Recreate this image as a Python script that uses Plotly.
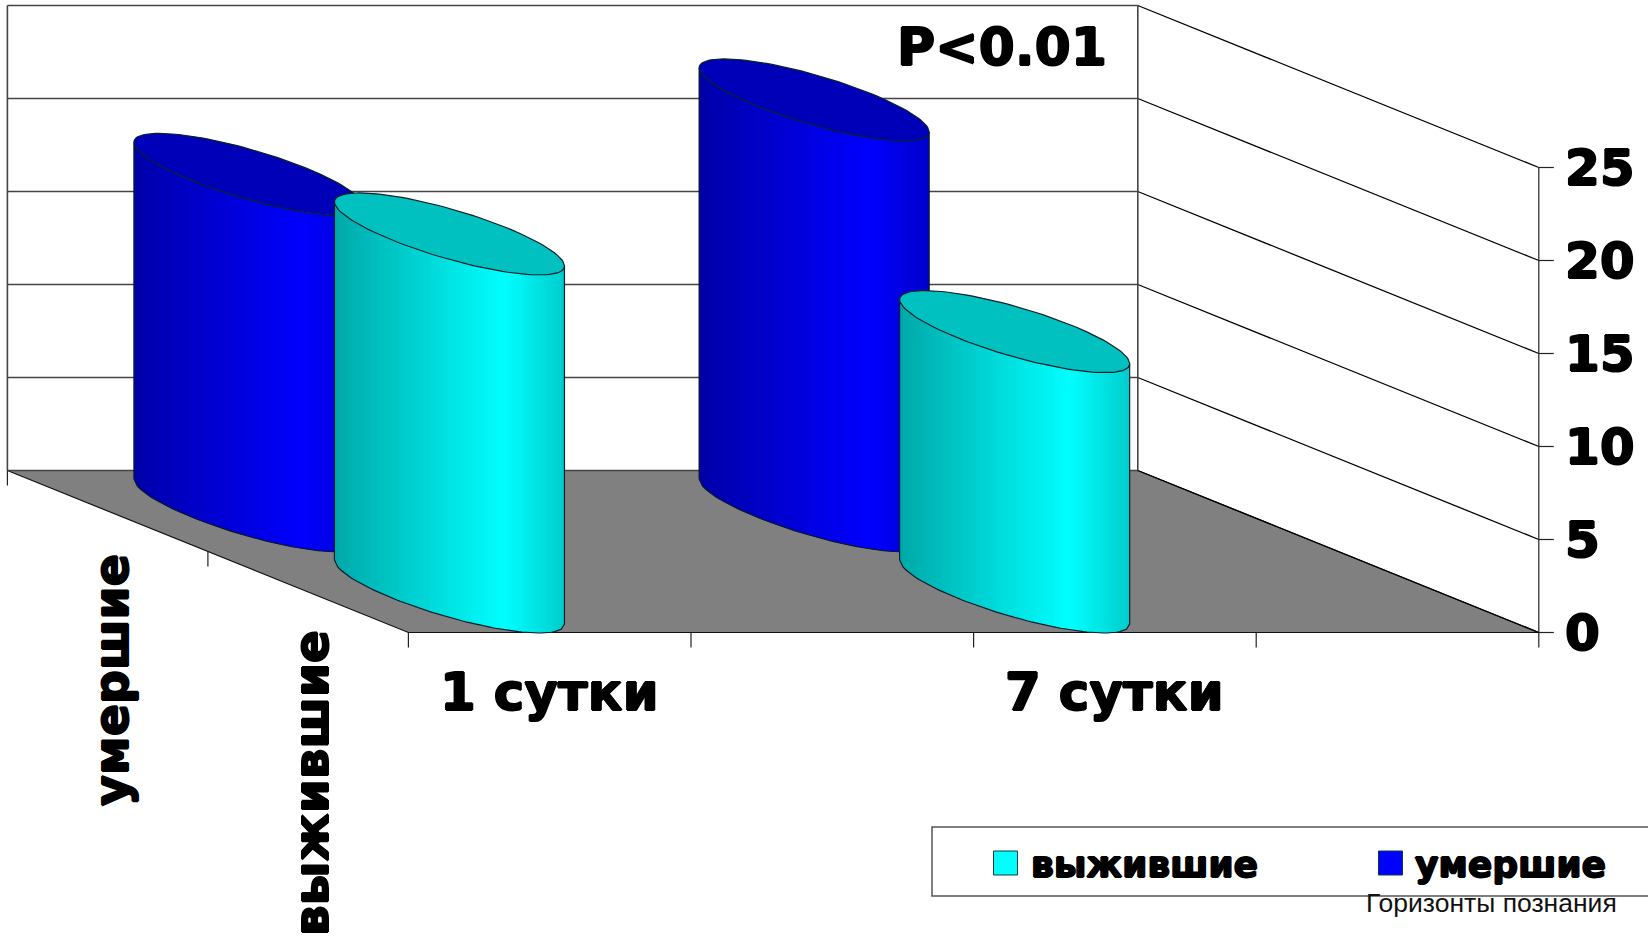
import math
import numpy as np
import plotly.graph_objects as go

categories = ["1 сутки", "", "7 сутки", ""]
series_names = ["умершие", "выжившие"]
dead_values = [18.1, 22.1]
survived_values = [19.25, 14.0]
value_ticks = [0, 5, 10, 15, 20, 25]
note_text = "P<0.01"
credit_text = "Горизонты познания"

# oblique projection of (category position, depth 0..1, value) to page pixels
X0, Y0 = 7.4, 470.5
CAT_W = 282.6
DX, DY = 401.0, 162.0
V_PX = 18.6
# screen ellipse of the cylinder section
RA, RB, RC = 71.6, 90.0, 41.0
R = math.hypot(RA, RB)
PHI = math.atan2(RB, RA)

FONT = "DejaVu Sans"
HEAVY = "0.9px 0 0 #000, -0.9px 0 0 #000, 0 0.7px 0 #000, 0 -0.7px 0 #000"


def proj(c, d, v):
    return X0 + CAT_W * c + DX * d, Y0 + DY * d - V_PX * v


fig = go.Figure()


def poly(xs, ys, fill=None, line="black", width=1.0):
    fig.add_trace(go.Scatter(
        x=list(xs), y=list(ys), mode="lines", showlegend=False, hoverinfo="skip",
        fill="toself" if fill else None, fillcolor=fill,
        line=dict(color=line if line else "rgba(0,0,0,0)", width=width if line else 0),
    ))


def seg(p, q, color="black", width=1.0):
    poly([p[0], q[0]], [p[1], q[1]], None, color, width)


n_cat = len(categories)

# floor
corners = [proj(0, 0, 0), proj(n_cat, 0, 0), proj(n_cat, 1, 0), proj(0, 1, 0), proj(0, 0, 0)]
poly([p[0] for p in corners], [p[1] for p in corners], "#808080", "#111111", 1.2)

# back wall and side wall grid
for v in value_ticks:
    seg(proj(0, 0, v), proj(n_cat, 0, v), "#444444", 1.6)
    seg(proj(n_cat, 0, v), proj(n_cat, 1, v), "black", 1.3)
    a = proj(n_cat, 1, v)
    seg(a, (a[0] + 15, a[1]), "#222222", 1.2)
seg(proj(0, 0, 0), proj(0, 0, 25), "#444444", 1.6)
seg(proj(n_cat, 0, 0), proj(n_cat, 0, 25), "#444444", 1.6)
seg(proj(n_cat, 1, 0), proj(n_cat, 1, 25), "#222222", 1.2)

# ticks below floor
for i in range(n_cat + 1):
    a = proj(i, 1, 0)
    seg(a, (a[0], a[1] + 15), "#222222", 1.2)
for d in [0, 0.5]:
    a = proj(0, d, 0)
    seg(a, (a[0], a[1] + 15), "#222222", 1.2)


def shade(t):
    if t < 0.74:
        return 0.66 + (1 - 0.66) * t / 0.74
    return 1 - (1 - 0.80) * (t - 0.74) / 0.26


def hue(kind, k):
    c = int(round(255 * k))
    return f"rgb(0,0,{c})" if kind == "dead" else f"rgb(0,{c},{c})"


def cylinder(c, d, v, kind):
    cx, base = proj(c, d, 0)
    top = base - V_PX * v
    n = 70
    xs = np.linspace(R, -R, n + 1)
    th = PHI + np.arccos(np.clip(xs / R, -1, 1))
    sy = RC * np.sin(th)
    # strips painted right to left, each overlapping under the next one to avoid seams
    for i in range(n):
        j = min(i + 2, n)
        t = (xs[i] + xs[i + 1] + 2 * R) / (4 * R)
        col = hue(kind, shade(t))
        idx = [i, i + 1, j]
        px = [cx + xs[k] for k in idx] + [cx + xs[k] for k in idx[::-1]] + [cx + xs[i]]
        py = [top + sy[k] for k in idx] + [base + sy[k] for k in idx[::-1]] + [top + sy[i]]
        poly(px, py, col, None)
    # right edge, base arc, left edge
    poly([cx + R] + list(cx + xs) + [cx - R],
         [top + sy[0]] + list(base + sy) + [top + sy[-1]],
         None, "#0a1a2a", 1.2)
    # top ellipse
    tt = np.linspace(0, 2 * math.pi, 121)
    ex = cx + RA * np.cos(tt) + RB * np.sin(tt)
    ey = top + RC * np.sin(tt)
    poly(ex, ey, "#0000B8" if kind == "dead" else "#00C0C0", "#06202a", 1.2)


cat_pos = [0.5, 2.5]
for i, cp in enumerate(cat_pos):
    cylinder(cp, 0.25, dead_values[i], "dead")
    cylinder(cp, 0.75, survived_values[i], "survived")

ann = []


def bold(size):
    return dict(family=FONT, size=size, color="black", shadow=HEAVY)


# value tick labels
for v in value_ticks:
    a = proj(n_cat, 1, v)
    ann.append(dict(x=a[0] + 24, y=a[1], text=f"<b>{v}</b>", xanchor="left", yanchor="middle",
                    showarrow=False, font=bold(50)))
# category labels
for i, name in enumerate(categories):
    if name:
        a = proj(i + 0.5, 1, 0)
        ann.append(dict(x=a[0], y=692, text=f"<b>{name}</b>", xanchor="center", yanchor="middle",
                        showarrow=False, font=bold(51.5)))
# series labels, rotated
ann.append(dict(x=111, y=680, text=f"<b>{series_names[0]}</b>", textangle=-90, xanchor="center",
                yanchor="middle", showarrow=False, font=bold(47.5)))
ann.append(dict(x=311, y=783, text=f"<b>{series_names[1]}</b>", textangle=-90, xanchor="center",
                yanchor="middle", showarrow=False, font=bold(48.5)))
ann.append(dict(x=1002, y=47, text=f"<b>{note_text}</b>", xanchor="center", yanchor="middle",
                showarrow=False, font=bold(52)))

# legend
poly([1660, 932, 932, 1660], [827, 827, 896, 896], None, "#555555", 1.5)
for sx, col, name, tx in [(1005.5, "#00FFFF", series_names[1], 1029), (1390.5, "#0000FF", series_names[0], 1413)]:
    fig.add_trace(go.Scatter(x=[sx], y=[863], mode="markers", showlegend=False, hoverinfo="skip",
                             marker=dict(symbol="square", size=24, color=col,
                                         line=dict(color="#0a3a4a", width=1))))
    ann.append(dict(x=tx, y=864, text=f"<b>{name}</b>", xanchor="left", yanchor="middle",
                    showarrow=False, font=bold(36)))
ann.append(dict(x=1491, y=903, text=credit_text, xanchor="center", yanchor="middle", showarrow=False,
                font=dict(family="Liberation Sans", size=26.5, color="#111111")))

fig.update_layout(
    width=1648, height=939, autosize=False,
    margin=dict(l=0, r=0, t=0, b=0),
    paper_bgcolor="white", plot_bgcolor="white",
    showlegend=False, annotations=ann,
    xaxis=dict(range=[0, 1648], visible=False, fixedrange=True),
    yaxis=dict(range=[939, 0], visible=False, fixedrange=True),
)
fig.write_html("out.html", post_script="document.body.style.margin='0';document.body.style.overflow='hidden';",
               config=dict(displayModeBar=False))
